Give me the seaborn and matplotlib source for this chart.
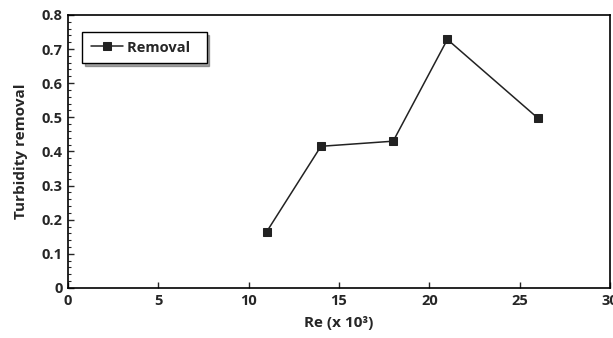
import matplotlib
matplotlib.use("Agg")
import matplotlib.pyplot as plt
import seaborn as sns
import pandas as pd
from matplotlib.ticker import MultipleLocator

# data
re_values = [11, 14, 18, 21, 26]
removal = [0.165, 0.415, 0.430, 0.728, 0.498]
series_label = "Removal"

df = pd.DataFrame({"Re": re_values, "Removal": removal})

sns.set_style("ticks")
plt.rcParams['font.family'] = ['Open Sans', 'DejaVu Sans']

fig = plt.figure(figsize=(6.13, 3.38), dpi=100)
ax = fig.add_axes([0.111, 0.148, 0.884, 0.808])

sns.lineplot(data=df, x="Re", y="Removal", ax=ax, color="#222222",
             marker="s", markersize=6, markeredgecolor="#222222",
             linewidth=1.1, label=series_label)

ax.set_xlim(0, 30)
ax.set_ylim(0, 0.8)
ax.xaxis.set_major_locator(MultipleLocator(5))
ax.yaxis.set_major_locator(MultipleLocator(0.1))
ax.yaxis.set_minor_locator(MultipleLocator(0.02))
ax.set_yticklabels([f"{v:g}" if v != 0 else "0" for v in ax.get_yticks()])

ax.tick_params(axis="both", which="major", direction="in", length=4, width=1,
               labelsize=10.5, pad=4)
ax.tick_params(axis="y", which="minor", direction="in", length=2.5, width=0.8)
for lab in ax.get_xticklabels() + ax.get_yticklabels():
    lab.set_fontweight("bold")

for s in ax.spines.values():
    s.set_linewidth(1.2)
    s.set_color("black")

ax.set_xlabel("Re (x 10³)", fontsize=11, fontweight="bold", labelpad=6)
ax.set_ylabel("Turbidity removal", fontsize=11, fontweight="bold", labelpad=10)

leg = ax.legend(loc="upper left", bbox_to_anchor=(0.026, 0.938), frameon=True,
                fancybox=False, shadow=True, edgecolor="black",
                prop={"weight": "bold", "size": 10.5}, handlelength=2.2,
                handletextpad=0.3, borderpad=0.6, borderaxespad=0)
leg.get_frame().set_linewidth(1.0)
leg._legend_box.sep = 0
# widen the frame a little to the reference box width
leg.set_bbox_to_anchor((0.026, 0.938), transform=ax.transAxes)
for t in leg.get_texts():
    t.set_text(series_label + "  ")

fig.savefig("out.png", dpi=100)
